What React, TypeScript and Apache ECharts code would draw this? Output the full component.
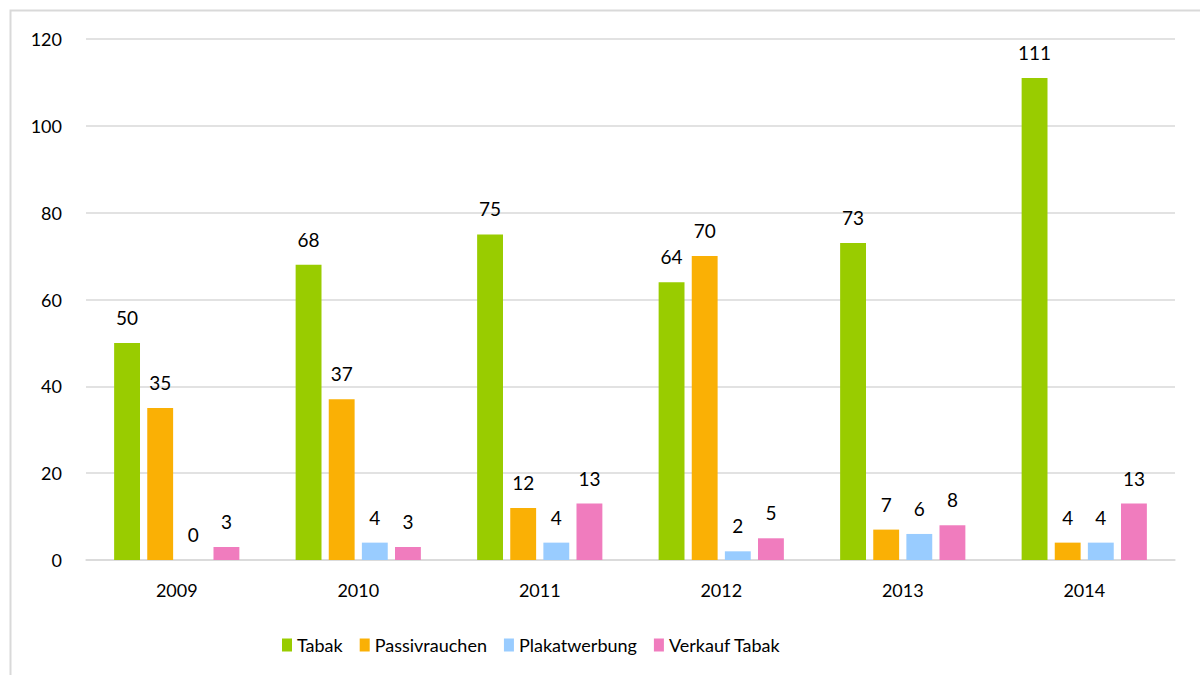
import React, { useEffect, useRef } from "react";
import * as echarts from "echarts";

const categories = ["2009", "2010", "2011", "2012", "2013", "2014"];
const seriesNames = ["Tabak", "Passivrauchen", "Plakatwerbung", "Verkauf Tabak"];
const tabak = [50, 68, 75, 64, 73, 111];
const passivrauchen = [35, 37, 12, 70, 7, 4];
const plakatwerbung = [0, 4, 4, 2, 6, 4];
const verkaufTabak = [3, 3, 13, 5, 8, 13];
const colors = ["#99CC00", "#FAB005", "#99CCFF", "#F07CBE"];
const yTicks = { min: 0, max: 120, interval: 20 };

export default function App() {
  const ref = useRef<HTMLDivElement>(null);
  useEffect(() => {
    if (!ref.current) return;
    const chart = echarts.init(ref.current, null, { renderer: "svg" });
    const font = "Lato, 'Open Sans', sans-serif";
    const values = [tabak, passivrauchen, plakatwerbung, verkaufTabak];
    chart.setOption({
      animation: false,
      backgroundColor: "#ffffff",
      textStyle: { fontFamily: font },
      graphic: [
        {
          type: "rect",
          shape: { x: 10.5, y: 10.5, width: 1220, height: 700 },
          style: { fill: "none", stroke: "#d9d9d9", lineWidth: 2 },
          silent: true,
        },
      ],
      grid: { left: 86, right: 25, top: 39, bottom: 115, containLabel: false },
      legend: {
        data: seriesNames,
        top: 631,
        left: 277,
        itemWidth: 10,
        itemHeight: 13,
        itemGap: 17,
        icon: "rect",
        textStyle: { fontSize: 18, color: "#000", fontFamily: font },
      },
      xAxis: {
        type: "category",
        data: categories,
        axisLine: { lineStyle: { color: "#d9d9d9", width: 1.5 } },
        axisTick: { show: false },
        axisLabel: { fontSize: 18, color: "#000", margin: 21, fontFamily: font },
      },
      yAxis: {
        type: "value",
        min: yTicks.min,
        max: yTicks.max,
        interval: yTicks.interval,
        axisLine: { show: false },
        axisTick: { show: false },
        splitLine: { lineStyle: { color: "#d9d9d9", width: 1.5 } },
        axisLabel: { fontSize: 18, color: "#000", margin: 24, fontFamily: font },
      },
      series: seriesNames.map((name, i) => ({
        name,
        type: "bar",
        data: values[i],
        barGap: "28%",
        barCategoryGap: "31%",
        itemStyle: { color: colors[i] },
        label: {
          show: true,
          position: "top",
          distance: 16,
          fontSize: 19,
          color: "#000",
          fontFamily: font,
        },
      })),
    });
    return () => chart.dispose();
  }, []);
  return (
    <div
      ref={ref}
      style={{ position: "absolute", left: 0, top: 0, width: 1200, height: 675 }}
    />
  );
}
